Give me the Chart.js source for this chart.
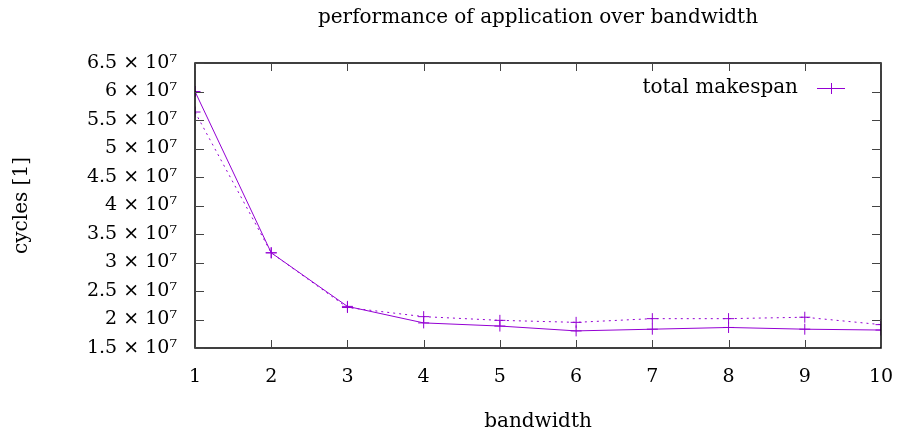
<!DOCTYPE html>
<html>
<head>
<meta charset="utf-8">
<script src="https://cdn.jsdelivr.net/npm/chart.js@4"></script>
<style>
  body { margin: 0; background: #fff; }
  #wrap { width: 899px; height: 434px; }
</style>
</head>
<body>
<div id="wrap"><canvas id="perf" width="899" height="434"></canvas></div>
<script>
// data
const bandwidth = [1, 2, 3, 4, 5, 6, 7, 8, 9, 10];
const makespan = [6.0e7, 3.17e7, 2.23e7, 1.94e7, 1.885e7, 1.80e7, 1.83e7, 1.86e7, 1.83e7, 1.815e7];
const makespanDashed = [5.64e7, 3.17e7, 2.21e7, 2.05e7, 1.985e7, 1.95e7, 2.015e7, 2.015e7, 2.04e7, 1.91e7];
const yTicks = [1.5e7, 2e7, 2.5e7, 3e7, 3.5e7, 4e7, 4.5e7, 5e7, 5.5e7, 6e7, 6.5e7];

const purple = '#9400d3';
const serif = "'DejaVu Serif', serif";

// gnuplot style frame + inside tick marks, title and key
const gnuFrame = {
  id: 'gnuFrame',
  afterDraw(chart) {
    const ctx = chart.ctx;
    const a = chart.chartArea;
    const xs = chart.scales.x, ys = chart.scales.y;
    ctx.save();
    ctx.strokeStyle = '#000';
    ctx.lineWidth = 1.5;
    ctx.strokeRect(a.left, a.top, a.right - a.left, a.bottom - a.top);
    ctx.lineWidth = 1;
    ctx.strokeStyle = '#444';
    ctx.beginPath();
    xs.ticks.forEach(t => {
      const px = Math.round(xs.getPixelForValue(t.value)) + 0.5;
      ctx.moveTo(px, a.bottom); ctx.lineTo(px, a.bottom - 8);
      ctx.moveTo(px, a.top); ctx.lineTo(px, a.top + 8);
    });
    ys.ticks.forEach(t => {
      const py = Math.round(ys.getPixelForValue(t.value)) + 0.5;
      ctx.moveTo(a.left, py); ctx.lineTo(a.left + 9, py);
      ctx.moveTo(a.right, py); ctx.lineTo(a.right - 9, py);
    });
    ctx.stroke();

    // title
    ctx.fillStyle = '#000';
    ctx.font = '20px ' + serif;
    ctx.textAlign = 'center';
    ctx.textBaseline = 'middle';
    ctx.fillText('performance of application over bandwidth', (a.left + a.right) / 2, 18);

    // key
    ctx.textAlign = 'right';
    ctx.fillText('total makespan', 798, 88);
    ctx.strokeStyle = purple;
    ctx.beginPath();
    ctx.moveTo(817, 88.5); ctx.lineTo(845, 88.5);
    ctx.moveTo(831.5, 83); ctx.lineTo(831.5, 94);
    ctx.stroke();
    ctx.restore();
  }
};

new Chart(document.getElementById('perf'), {
  type: 'line',
  data: {
    datasets: [
      {
        label: 'total makespan',
        data: bandwidth.map((b, i) => ({ x: b, y: makespan[i] })),
        borderColor: purple,
        backgroundColor: purple,
        borderWidth: 1,
        pointStyle: 'cross',
        pointRadius: 5.5,
        pointBorderWidth: 1
      },
      {
        label: 'dashed',
        data: bandwidth.map((b, i) => ({ x: b, y: makespanDashed[i] })),
        borderColor: purple,
        backgroundColor: purple,
        borderWidth: 1,
        borderDash: [2, 4],
        pointStyle: 'cross',
        pointRadius: 5.5,
        pointBorderWidth: 1
      }
    ]
  },
  options: {
    responsive: false,
    animation: false,
    devicePixelRatio: 1,
    layout: { padding: { left: 0, top: 63, right: 18, bottom: 0 } },
    plugins: {
      legend: { display: false },
      title: { display: false },
      tooltip: { enabled: false }
    },
    scales: {
      x: {
        type: 'linear',
        min: 1,
        max: 10,
        grid: { display: false },
        border: { display: false },
        afterFit(scale) {
          scale.height = 86;
          scale.paddingLeft = 0;
          scale.paddingRight = 0;
        },
        ticks: {
          stepSize: 1,
          padding: 10,
          color: '#000',
          font: { family: serif, size: 19 }
        },
        title: {
          display: true,
          text: 'bandwidth',
          color: '#000',
          padding: { top: 0, bottom: 0 },
          font: { family: serif, size: 20 }
        }
      },
      y: {
        min: 1.5e7,
        max: 6.5e7,
        grid: { display: false },
        border: { display: false },
        afterFit(scale) { scale.width = 195; },
        afterBuildTicks(scale) { scale.ticks = yTicks.map(v => ({ value: v })); },
        ticks: {
          padding: 10,
          color: '#000',
          font: { family: serif, size: 19 },
          callback: v => (v / 1e7) + ' × 10⁷'
        },
        title: {
          display: true,
          text: 'cycles [1]',
          color: '#000',
          padding: { top: 10, bottom: 0 },
          font: { family: serif, size: 20 }
        }
      }
    }
  },
  plugins: [gnuFrame]
});
</script>
</body>
</html>
